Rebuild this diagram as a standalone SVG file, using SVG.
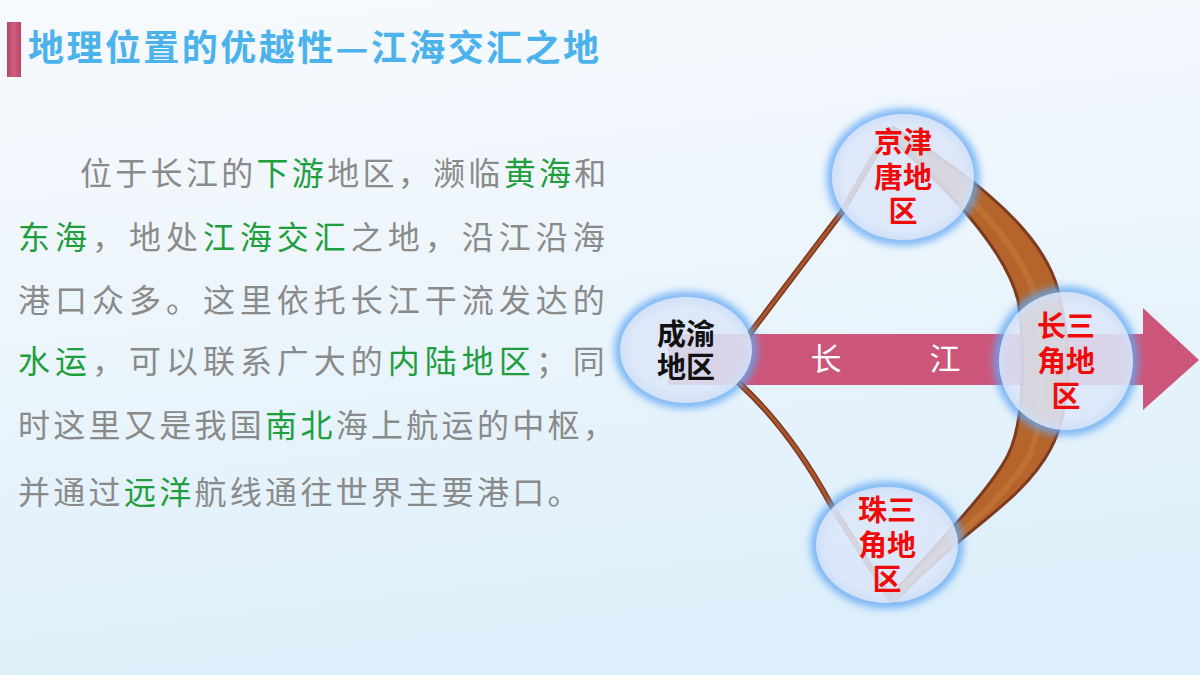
<svg xmlns="http://www.w3.org/2000/svg" width="1200" height="675" viewBox="0 0 1200 675">
<defs>
<linearGradient id="bg" x1="0" y1="0" x2="0.2" y2="1">
<stop offset="0" stop-color="#f7fafd"/>
<stop offset="0.5" stop-color="#ecf5fc"/>
<stop offset="1" stop-color="#ddeffa"/>
</linearGradient>
<linearGradient id="bar" x1="0" y1="0" x2="1" y2="0">
<stop offset="0" stop-color="#b94468"/>
<stop offset="0.5" stop-color="#d0607f"/>
<stop offset="1" stop-color="#b94468"/>
</linearGradient>
<filter id="glow" x="-30%" y="-30%" width="160%" height="160%">
<feGaussianBlur stdDeviation="4"/>
</filter>
<style>
.title{font-family:"Noto Sans CJK SC","Noto Sans",sans-serif;font-weight:bold;font-size:36px;fill:#4cb2ec}
.body{font-family:"Noto Sans CJK SC","Noto Sans",sans-serif;font-size:32px;fill:#8a8a8a;letter-spacing:3.3px}
.g{fill:#1f9e3e}
.lbl{font-family:"Noto Sans CJK SC","Noto Sans",sans-serif;font-weight:bold;font-size:29px;text-anchor:middle}
.red{fill:#f00a0a}
.blk{fill:#111111}
.river{font-family:"Noto Sans CJK SC","Noto Sans",sans-serif;font-size:31px;fill:#ffffff;text-anchor:middle}
.ring{fill:none;stroke:#62a8f4;stroke-width:9;filter:url(#glow)}
.disc{fill:#dce6f8;fill-opacity:0.88}
.thin-o{fill:none;stroke:#7a3a20;stroke-width:6;stroke-linecap:round}
.thin-i{fill:none;stroke:#a9552e;stroke-width:3;stroke-linecap:round}
.band{fill:#b5652c;stroke:#7c3a1e;stroke-width:3;stroke-linejoin:round}
</style>
</defs>
<rect x="0" y="0" width="1200" height="675" fill="url(#bg)"/>

<g id="title">
<rect x="7" y="22" width="14" height="55" fill="url(#bar)"/>
<text class="title" x="28" y="61" textLength="571" lengthAdjust="spacing">地理位置的优越性—江海交汇之地</text>
</g>

<g id="paragraph">
<text class="body" x="80" y="185">位于长江的<tspan class="g">下游</tspan>地区，濒临<tspan class="g">黄海</tspan>和</text>
<text class="body" x="18" y="249" textLength="590" lengthAdjust="spacing"><tspan class="g">东海</tspan>，地处<tspan class="g">江海交汇</tspan>之地，沿江沿海</text>
<text class="body" x="18" y="312" textLength="590" lengthAdjust="spacing">港口众多。这里依托长江干流发达的</text>
<text class="body" x="18" y="373" textLength="590" lengthAdjust="spacing"><tspan class="g">水运</tspan>，可以联系广大的<tspan class="g">内陆地区</tspan>；同</text>
<text class="body" x="18" y="437">时这里又是我国<tspan class="g">南北</tspan>海上航运的中枢，</text>
<text class="body" x="18" y="504">并通过<tspan class="g">远洋</tspan>航线通往世界主要港口。</text>
</g>

<g id="arrow-changjiang">
<polygon points="668,334 1143,334 1143,308 1199,360 1143,410 1143,385 668,385" fill="#cc5679"/>
<text class="river" x="826" y="370">长</text>
<text class="river" x="945" y="370">江</text>
</g>

<g id="connectors">
<path class="thin-o" d="M748 336 L842 212 Q866 170 889 131"/>
<path class="thin-i" d="M748 336 L842 212 Q866 170 889 131"/>
<path class="thin-o" d="M740 384 Q790 430 830 503 L891 600"/>
<path class="thin-i" d="M740 384 Q790 430 830 503 L891 600"/>
<path class="band" d="M893 127 C945 160 1040 220 1058 290 C1072 345 1072 410 1050 450 C1020 505 960 530 895 602 L889 598 C945 535 990 490 1008 455 C1025 420 1025 350 1018 300 C1005 250 950 190 887 135 Z"/>
<path d="M895 135 C960 185 1020 240 1036 300 C1048 350 1046 410 1030 455 C1000 505 950 540 893 598" fill="none" stroke="#c47a38" stroke-width="6" stroke-opacity="0.6"/>
</g>

<g id="node-chengyu">
<ellipse class="ring" cx="686" cy="350" rx="66" ry="53"/>
<ellipse class="disc" cx="686" cy="350" rx="66" ry="53"/>
<text class="lbl blk" x="686" y="345">成渝</text>
<text class="lbl blk" x="686" y="378">地区</text>
</g>

<g id="node-jingjintang">
<ellipse class="ring" cx="903" cy="177" rx="71" ry="63"/>
<ellipse class="disc" cx="903" cy="177" rx="71" ry="63"/>
<text class="lbl red" x="903" y="153">京津</text>
<text class="lbl red" x="903" y="188">唐地</text>
<text class="lbl red" x="903" y="222">区</text>
</g>

<g id="node-changsanjiao">
<ellipse class="ring" cx="1066" cy="361" rx="67" ry="69"/>
<ellipse class="disc" cx="1066" cy="361" rx="67" ry="69"/>
<text class="lbl red" x="1066" y="337">长三</text>
<text class="lbl red" x="1066" y="372">角地</text>
<text class="lbl red" x="1066" y="407">区</text>
</g>

<g id="node-zhusanjiao">
<ellipse class="ring" cx="887" cy="545" rx="71" ry="58"/>
<ellipse class="disc" cx="887" cy="545" rx="71" ry="58"/>
<text class="lbl red" x="887" y="521">珠三</text>
<text class="lbl red" x="887" y="556">角地</text>
<text class="lbl red" x="887" y="590">区</text>
</g>
</svg>
